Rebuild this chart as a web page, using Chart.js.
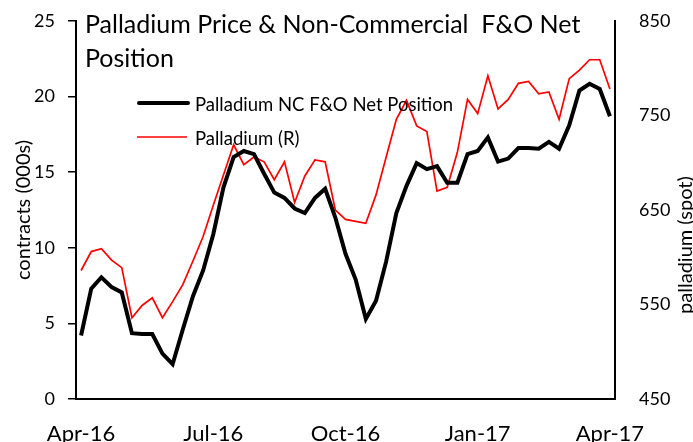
<!DOCTYPE html>
<html>
<head>
<meta charset="utf-8">
<script src="https://cdn.jsdelivr.net/npm/chart.js@4.4.0/dist/chart.umd.min.js"></script>
<style>
  html, body { margin: 0; padding: 0; background: #fff; }
  #wrap { width: 693px; height: 442px; }
</style>
</head>
<body>
<div id="wrap"><canvas id="cotChart" width="693" height="442"></canvas></div>
<script>
// weekly COT report dates (Tuesdays)
const weeks = [
  '2016-04-05', '2016-04-12', '2016-04-19', '2016-04-26', '2016-05-03', '2016-05-10',
  '2016-05-17', '2016-05-24', '2016-05-31', '2016-06-07', '2016-06-14', '2016-06-21',
  '2016-06-28', '2016-07-05', '2016-07-12', '2016-07-19', '2016-07-26', '2016-08-02',
  '2016-08-09', '2016-08-16', '2016-08-23', '2016-08-30', '2016-09-06', '2016-09-13',
  '2016-09-20', '2016-09-27', '2016-10-04', '2016-10-11', '2016-10-18', '2016-10-25',
  '2016-11-01', '2016-11-08', '2016-11-15', '2016-11-22', '2016-11-29', '2016-12-06',
  '2016-12-13', '2016-12-20', '2016-12-27', '2017-01-03', '2017-01-10', '2017-01-17',
  '2017-01-24', '2017-01-31', '2017-02-07', '2017-02-14', '2017-02-21', '2017-02-28',
  '2017-03-07', '2017-03-14', '2017-03-21', '2017-03-28', '2017-04-04',
];

// NC F&O net position, contracts (000s)
const netPosition = [
  4.2, 7.3, 8.05, 7.4, 7.05, 4.35, 4.3, 4.3, 3.0, 2.3, 4.6, 6.8, 8.5,
  10.9, 14.0, 16.0, 16.4, 16.2, 14.9, 13.65, 13.3, 12.6, 12.3, 13.3, 13.9, 12.0,
  9.6, 7.9, 5.3, 6.5, 9.1, 12.3, 14.1, 15.6, 15.2, 15.4, 14.3, 14.3, 16.2,
  16.4, 17.3, 15.7, 15.9, 16.6, 16.6, 16.55, 17.0, 16.55, 18.1, 20.4, 20.85, 20.5,
  18.7,
];

// palladium spot price (right axis)
const palladiumPrice = [
  586, 606, 609, 597, 589, 536, 549, 557, 536, 553, 571, 596, 622,
  655, 687, 719, 698, 706, 701, 682, 701, 658, 686, 703, 701, 650,
  640, 638, 636, 666, 706, 746, 766, 739, 733, 670, 674, 711, 767,
  752, 792, 757, 767, 784, 786, 773, 775, 746, 789, 798, 809, 809,
  778,
];

const tickWeeks = ['2016-04-05', '2016-07-05', '2016-10-04', '2017-01-03', '2017-04-04'];
const tickLabels = ['Apr-16', 'Jul-16', 'Oct-16', 'Jan-17', 'Apr-17'];

const TITLE_LINES = ['Palladium Price & Non-Commercial  F&O Net', 'Position'];
const LEFT_TITLE = 'contracts (000s)';
const RIGHT_TITLE = 'palladium (spot)';
const FONT = 'Lato';

// title, in-plot legend and right axis title, drawn on top of the chart
const overlayText = {
  id: 'overlayText',
  afterDraw(chart) {
    const ctx = chart.ctx;
    ctx.save();
    ctx.fillStyle = '#000';
    ctx.textAlign = 'left';
    ctx.textBaseline = 'alphabetic';

    ctx.font = `25px ${FONT}`;
    TITLE_LINES.forEach((t, i) => ctx.fillText(t, 85, 33 + i * 34));

    ctx.font = `18.5px ${FONT}`;
    chart.data.datasets.forEach((ds, i) => {
      const y = 103 + i * 34;
      ctx.strokeStyle = ds.borderColor;
      ctx.lineWidth = ds.borderWidth;
      ctx.lineCap = i === 0 ? 'round' : 'butt';
      ctx.beginPath();
      ctx.moveTo(i === 0 ? 139 : 137, y);
      ctx.lineTo(i === 0 ? 188 : 187, y);
      ctx.stroke();
      ctx.fillText(ds.label, 195, y + 8);
    });

    ctx.font = `20px ${FONT}`;
    ctx.translate(692, 245);
    ctx.rotate(-Math.PI / 2);
    ctx.textAlign = 'center';
    ctx.fillText(RIGHT_TITLE, 0, 0);
    ctx.restore();
  },
};

// fixed axis boxes so the plot area lands where the original has it
function fitY(width) {
  return (s) => {
    s.width = width;
    s.paddingTop = 0;
    s.paddingBottom = 0;
  };
}

new Chart(document.getElementById('cotChart'), {
  type: 'line',
  data: {
    labels: weeks,
    datasets: [
      {
        label: 'Palladium NC F&O Net Position',
        data: netPosition,
        yAxisID: 'y',
        borderColor: '#000000',
        borderWidth: 4,
        pointRadius: 0,
        tension: 0,
      },
      {
        label: 'Palladium (R)',
        data: palladiumPrice,
        yAxisID: 'y1',
        borderColor: '#ff0000',
        borderWidth: 1.7,
        pointRadius: 0,
        tension: 0,
      },
    ],
  },
  options: {
    responsive: false,
    animation: false,
    layout: { padding: { top: 21 } },
    plugins: {
      legend: { display: false },
      tooltip: { enabled: false },
    },
    scales: {
      x: {
        type: 'category',
        offset: true,
        grid: { display: false },
        border: { color: '#000', width: 2 },
        ticks: {
          autoSkip: false,
          maxRotation: 0,
          color: '#000',
          padding: 14,
          font: { family: FONT, size: 22 },
          callback(value, index) {
            const k = tickWeeks.indexOf(weeks[index]);
            return k >= 0 ? tickLabels[k] : '';
          },
        },
        afterFit(s) { s.height = 43; },
      },
      y: {
        position: 'left',
        min: 0,
        max: 25,
        grid: { drawOnChartArea: false, drawTicks: true, tickLength: 8, color: '#000', lineWidth: 1.5 },
        border: { color: '#000', width: 2 },
        ticks: { stepSize: 5, color: '#000', padding: 13, font: { family: FONT, size: 18 } },
        title: { display: true, text: LEFT_TITLE, color: '#000', padding: { top: 12, bottom: 0 }, font: { family: FONT, size: 20 } },
        afterFit: fitY(76),
      },
      y1: {
        position: 'right',
        min: 450,
        max: 850,
        grid: { display: false },
        border: { color: '#000', width: 2 },
        ticks: { stepSize: 100, color: '#000', padding: 16, font: { family: FONT, size: 18 } },
        afterFit: fitY(78),
      },
    },
  },
  plugins: [overlayText],
});
</script>
</body>
</html>
